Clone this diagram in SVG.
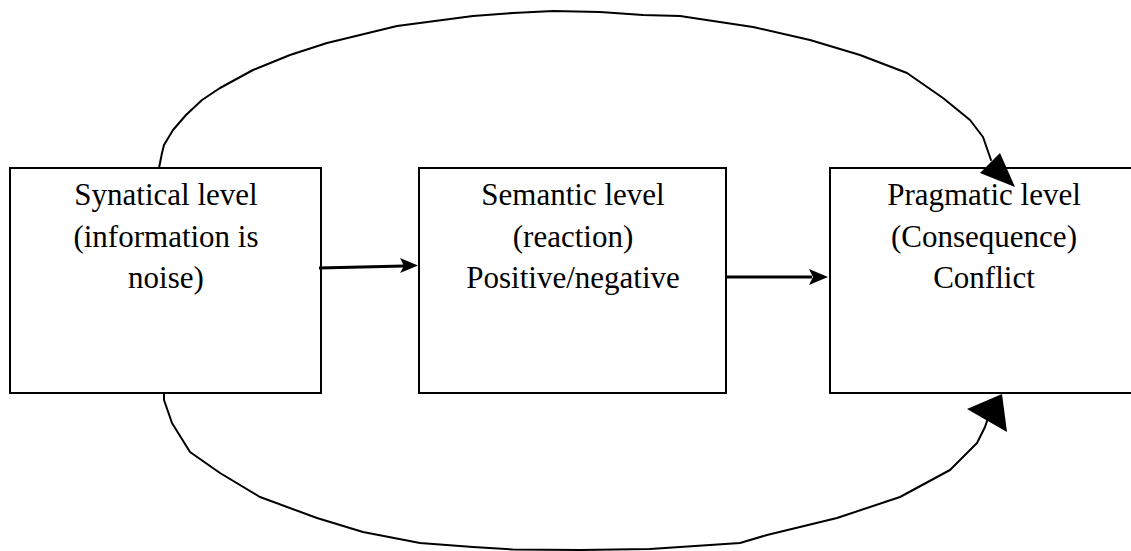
<svg xmlns="http://www.w3.org/2000/svg" width="1131" height="551" viewBox="0 0 1131 551">
<style>
.box{fill:#fff;stroke:#000;stroke-width:2}
.lbl{font-family:"Liberation Serif","Times New Roman",serif;font-size:31px;fill:#000;text-anchor:middle}
.wire{fill:none;stroke:#000;stroke-width:2;stroke-linejoin:round;stroke-linecap:round}
.line3{fill:none;stroke:#000;stroke-width:3}
.head{fill:#000;stroke:none}
</style>
<rect width="1131" height="551" fill="#fff"/>
<g id="node-syntactical">
<rect class="box" x="10" y="168" width="311" height="225"/>
<text class="lbl" x="166" y="205">Synatical level</text>
<text class="lbl" x="166" y="246.5">(information is</text>
<text class="lbl" x="166" y="288">noise)</text>
</g>
<g id="node-semantic">
<rect class="box" x="419" y="168" width="307" height="225"/>
<text class="lbl" x="573" y="205">Semantic level</text>
<text class="lbl" x="573" y="246.5">(reaction)</text>
<text class="lbl" x="573" y="288">Positive/negative</text>
</g>
<g id="node-pragmatic">
<rect class="box" x="830" y="168" width="310" height="225"/>
<text class="lbl" x="984" y="205">Pragmatic level</text>
<text class="lbl" x="984" y="246.5">(Consequence)</text>
<text class="lbl" x="984" y="288">Conflict</text>
</g>
<g id="connectors">
<path class="line3" d="M319,268 L404,266"/>
<polygon class="head" points="418,265.5 400,258 404,266 400,273"/>
<path class="line3" d="M727,277 L812,277"/>
<polygon class="head" points="828,277 809,269 813,277 809,285"/>
<path class="wire" d="M159,168 L162,153 L164,145 L173,130 L186,115 L202,100 L220,88 L253,70 L290,55 L327,43 L360,35 L397,26 L435,21 L473,16 L513,13 L553,11 L600,12 L643,15 L680,16 L753,27 L810,40 L860,55 L907,73 L943,98 L970,120 L983,137 L991,160"/>
<polygon class="head" points="1015,187 980,173 1000,153"/>
<path class="wire" d="M164,393 L164,400 L172,423 L190,452 L220,473 L260,497 L317,518 L363,532 L420,543 L473,547 L513,549.5 L580,550 L650,549 L740,543 L767,535 L837,518 L900,497 L950,470 L977,443 L985,427 L988,418"/>
<polygon class="head" points="1002,394 967,409 1007,432"/>
</g>
</svg>
